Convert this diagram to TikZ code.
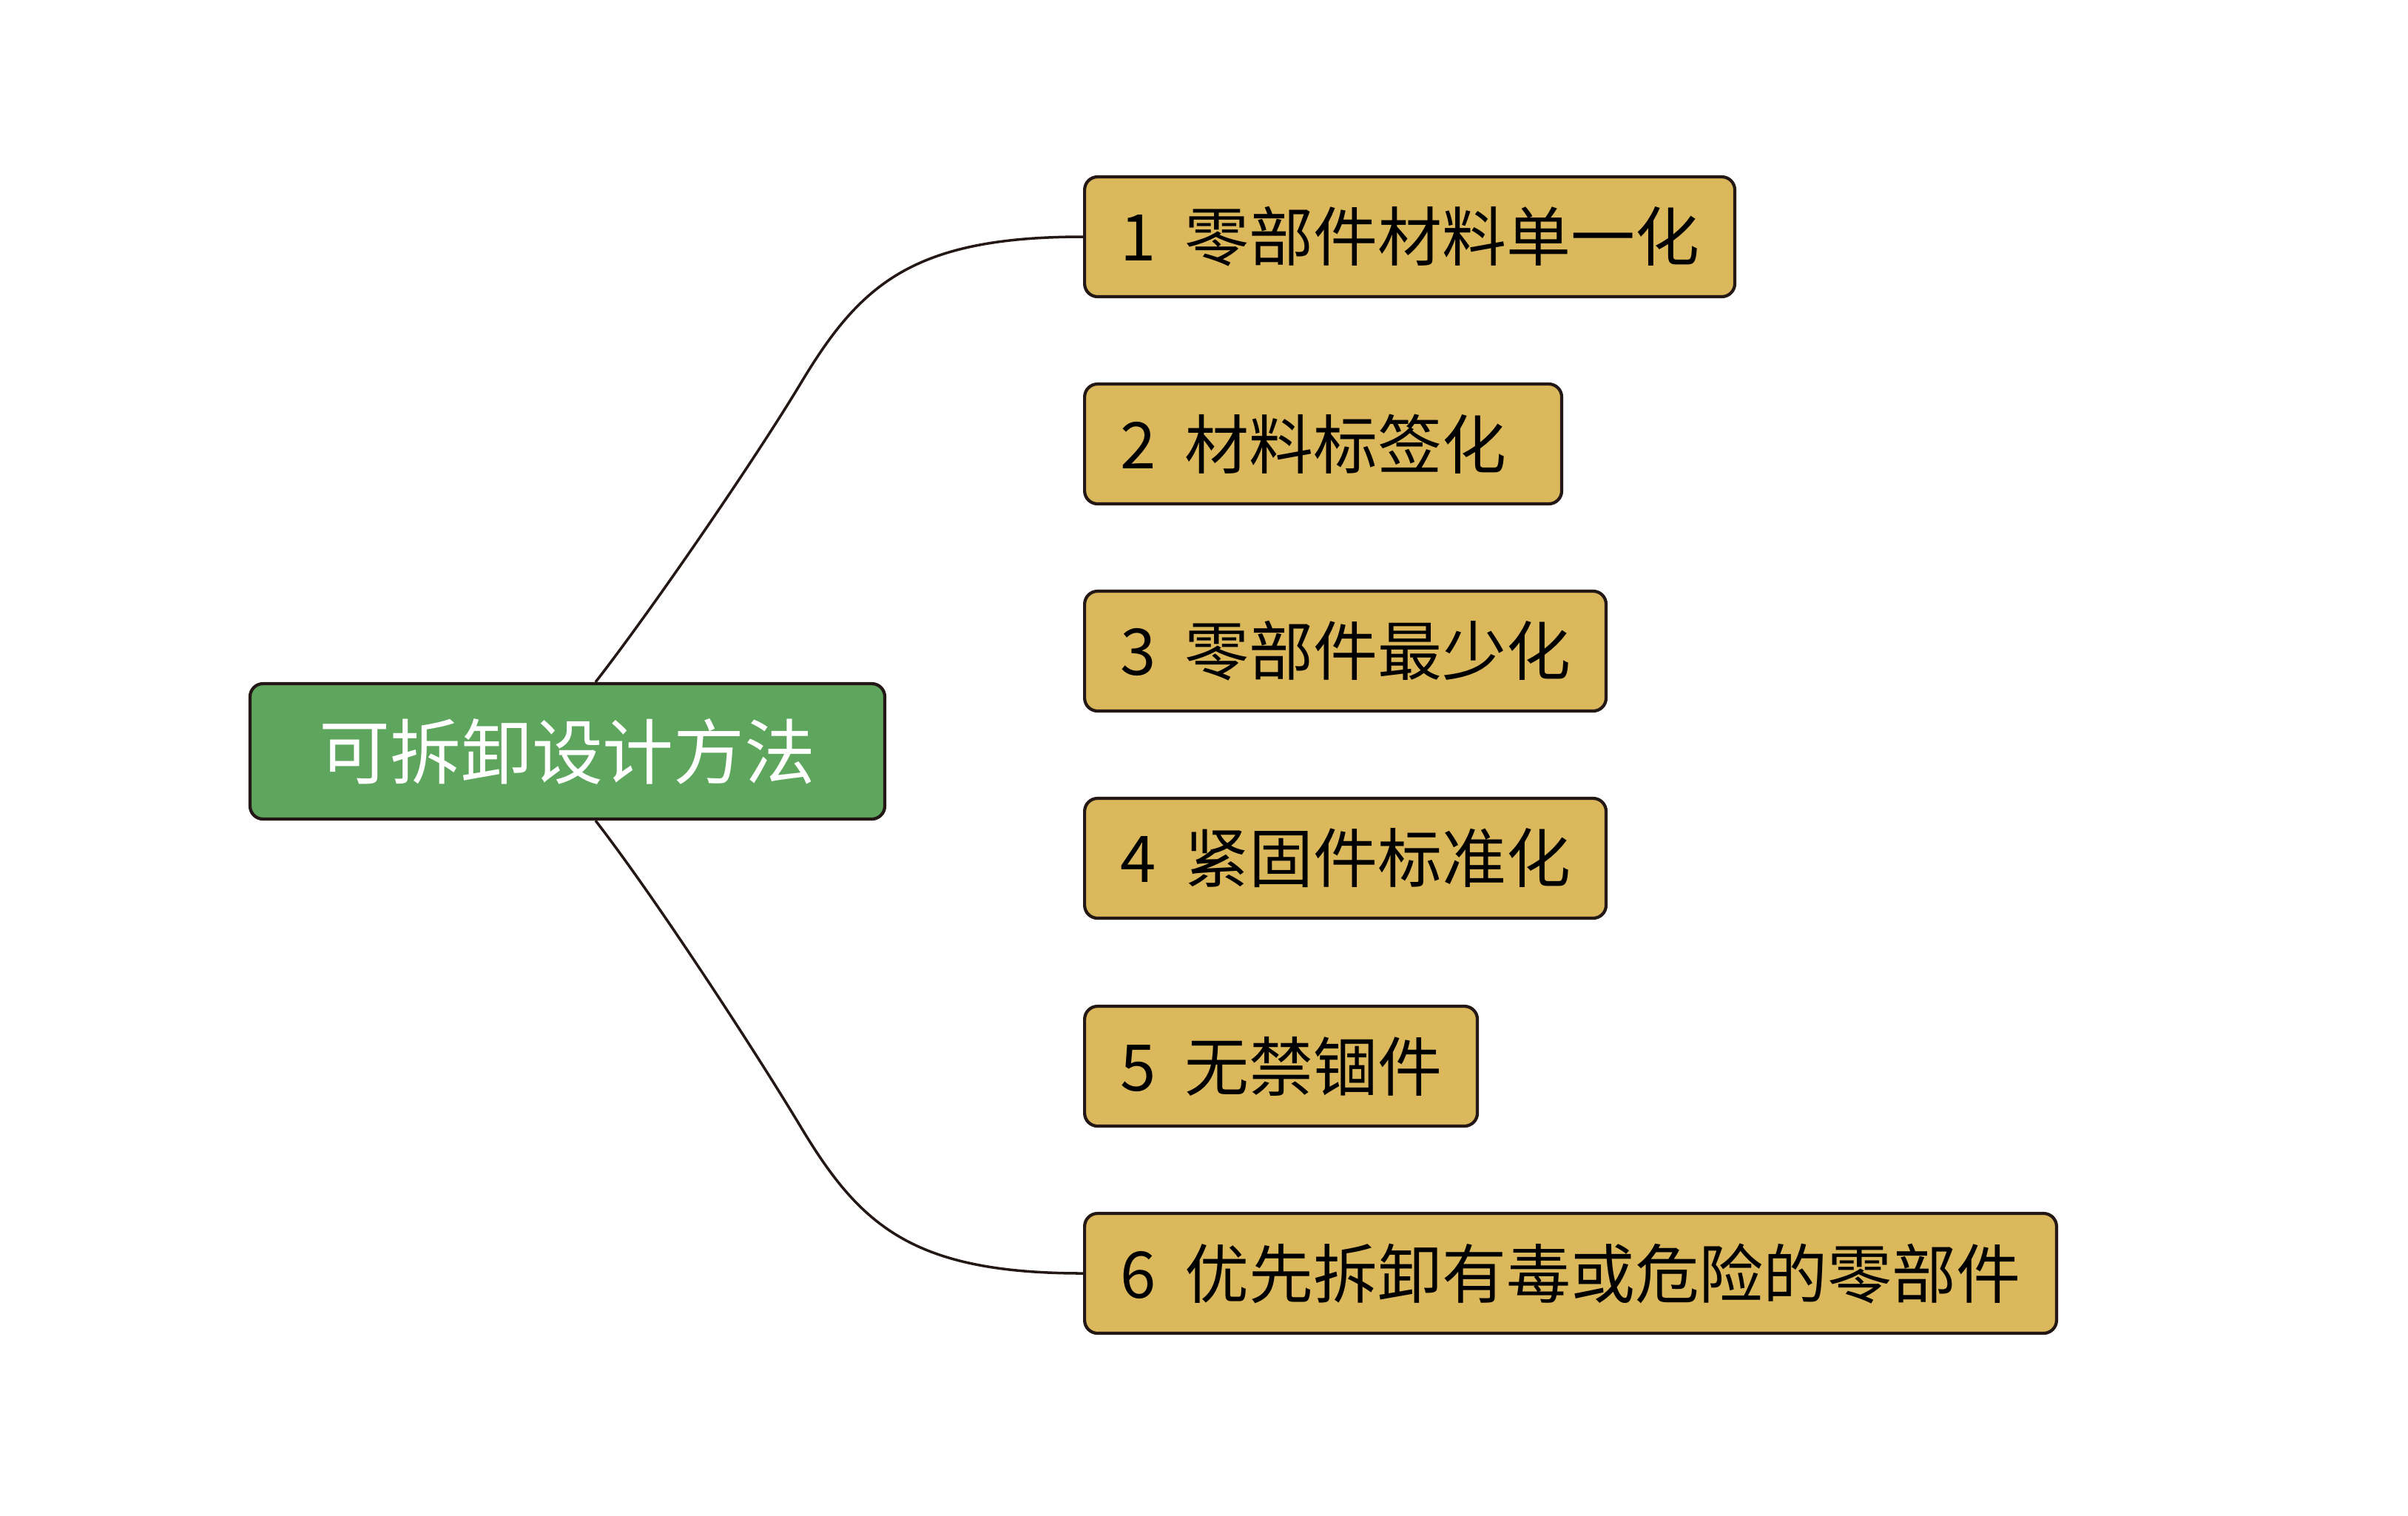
\documentclass[tikz,border=0pt]{standalone}
\usepackage{fontspec}
\newfontfamily\cjk{Noto Sans CJK SC}
\usepackage{xcolor}
\usetikzlibrary{calc}
\definecolor{rootgreen}{HTML}{5EA55D}
\definecolor{itemgold}{HTML}{DBB85C}
\definecolor{edgeline}{HTML}{231815}

\begin{document}
\begin{tikzpicture}[every node/.style={font=\cjk},
  rootbox/.style={draw=edgeline, line width=1.2pt, rounded corners=5pt, fill=rootgreen, text=white, minimum width=8.58cm, minimum height=1.83cm, font=\cjk\fontsize{27.3pt}{30pt}\selectfont},
  itembox/.style={draw=edgeline, line width=1.2pt, rounded corners=5pt, fill=itemgold, anchor=west, inner xsep=0.48cm, minimum height=1.62cm, font=\cjk\fontsize{24.75pt}{28pt}\selectfont},
  branch/.style={draw=edgeline, line width=1pt}]
  \useasboundingbox (0,0) rectangle (32.55,-20.48);
  \node[rootbox] (method) at (7.67,-10.155) {可拆卸设计方法};
  \node[itembox] (item1) at (14.64,-3.20) {\makebox[1em][l]{1}零部件材料单一化};
  \node[itembox] (item2) at (14.64,-6.00) {\makebox[1em][l]{2}材料标签化\kern0.27cm};
  \node[itembox] (item3) at (14.64,-8.80) {\makebox[1em][l]{3}零部件最少化};
  \node[itembox] (item4) at (14.64,-11.60) {\makebox[1em][l]{4}紧固件标准化};
  \node[itembox] (item5) at (14.64,-14.41) {\makebox[1em][l]{5}无禁锢件};
  \node[itembox] (item6) at (14.64,-17.21) {\makebox[1em][l]{6}优先拆卸有毒或危险的零部件};
  \coordinate (bendtop) at ($(item1.west)+(-3.81,-1.97)$);
  \coordinate (bendbot) at ($(item6.west)+(-3.81,1.97)$);
  \draw[branch] ($(method.north)+(0.38,0)$) .. controls +(0.80,1.03) and +(-0.60,-1.00) .. (bendtop)
    .. controls +(0.80,1.33) and +(-2.30,0) .. (item1.west);
  \draw[branch] ($(method.south)+(0.38,0)$) .. controls +(0.80,-1.03) and +(-0.60,1.00) .. (bendbot)
    .. controls +(0.80,-1.33) and +(-2.30,0) .. (item6.west);
\end{tikzpicture}
\end{document}
